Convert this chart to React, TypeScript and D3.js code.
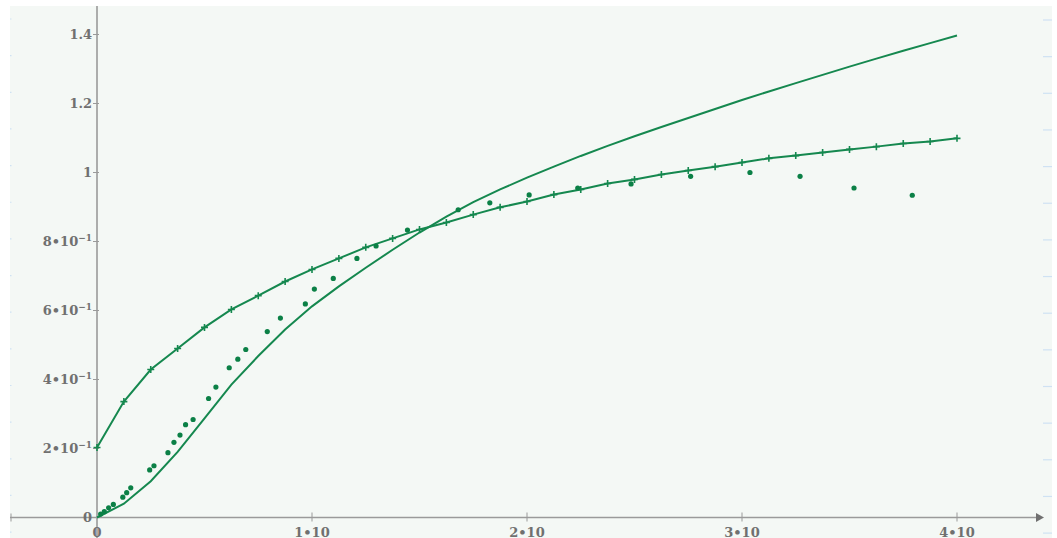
import React from "react";
import * as d3 from "d3";

// x grid for the two computed curves (step 0.125 from 0 to 4)
const gridX: number[] = [
  0, 0.125, 0.25, 0.375, 0.5, 0.625, 0.75, 0.875, 1, 1.125, 1.25, 1.375, 1.5, 1.625, 1.75, 1.875,
  2, 2.125, 2.25, 2.375, 2.5, 2.625, 2.75, 2.875, 3, 3.125, 3.25, 3.375, 3.5, 3.625, 3.75, 3.875, 4,
];

// curve with "+" markers
const markedY: number[] = [
  0.203, 0.336, 0.429, 0.49, 0.551, 0.603, 0.643, 0.684, 0.719, 0.751, 0.783, 0.809, 0.835, 0.855,
  0.878, 0.899, 0.916, 0.936, 0.951, 0.968, 0.98, 0.994, 1.006, 1.017, 1.029, 1.041, 1.049, 1.058,
  1.067, 1.075, 1.084, 1.09, 1.099,
];

// plain curve
const plainY: number[] = [
  0, 0.04, 0.105, 0.19, 0.287, 0.385, 0.468, 0.545, 0.612, 0.67, 0.724, 0.776, 0.826, 0.872, 0.914,
  0.951, 0.985, 1.017, 1.048, 1.077, 1.105, 1.132, 1.158, 1.184, 1.21, 1.235, 1.259, 1.283, 1.307,
  1.33, 1.353, 1.375, 1.397,
];

// measured points
const dotX: number[] = [
  0.017, 0.034, 0.054, 0.076, 0.12, 0.138, 0.157, 0.245, 0.265, 0.33, 0.358, 0.386, 0.412, 0.447,
  0.519, 0.553, 0.615, 0.655, 0.692, 0.792, 0.853, 0.969, 1.011, 1.099, 1.209, 1.298, 1.444, 1.68,
  1.827, 2.01, 2.236, 2.484, 2.761, 3.037, 3.27, 3.521, 3.792,
];
const dotY: number[] = [
  0.01, 0.017, 0.028, 0.038, 0.059, 0.072, 0.086, 0.138, 0.15, 0.188, 0.218, 0.239, 0.269, 0.284,
  0.345, 0.378, 0.434, 0.459, 0.487, 0.539, 0.578, 0.619, 0.662, 0.693, 0.751, 0.787, 0.833, 0.892,
  0.912, 0.935, 0.955, 0.967, 0.989, 1.0, 0.989, 0.955, 0.934,
];

const xTickValues: number[] = [0, 1, 2, 3, 4];
const xTickLabels: string[] = ["0", "1•10", "2•10", "3•10", "4•10"];
const yTickValues: number[] = [0, 0.2, 0.4, 0.6, 0.8, 1, 1.2, 1.4];
const yTickLabels: string[] = ["0", "2•10^−1", "4•10^−1", "6•10^−1", "8•10^−1", "1", "1.2", "1.4"];

const W = 1057;
const H = 538;
const GREEN = "#15884f";
const DOT = "#0b8046";
const AXIS = "#9a9a9a";
const LABEL = "#707070";
const FONT = "'DejaVu Serif', 'Liberation Serif', serif";

export default function App() {
  const x = d3.scaleLinear().domain([0, 4]).range([97, 957]);
  const y = d3.scaleLinear().domain([0, 1.4]).range([517.5, 34.5]);
  const x0 = x(0);
  const y0 = y(0);

  const line = d3
    .line<[number, number]>()
    .x((d) => x(d[0]))
    .y((d) => y(d[1]));

  const marked: [number, number][] = gridX.map((v, i) => [v, markedY[i]]);
  const plain: [number, number][] = gridX.map((v, i) => [v, plainY[i]]);

  const decoYs: number[] = d3.range(20, 540, 36.65);

  const renderLabel = (s: string) => {
    const parts = s.split("^");
    if (parts.length === 1) return s;
    return (
      <>
        {parts[0]}
        <tspan dy={-5} fontSize={9}>
          {parts[1]}
        </tspan>
      </>
    );
  };

  return (
    <svg
      width={W}
      height={H}
      style={{ position: "absolute", left: 0, top: 0, display: "block" }}
      fontFamily={FONT}
    >
      <rect x={0} y={0} width={W} height={H} fill="#ffffff" />
      <rect x={10} y={6} width={1042} height={H - 6} fill="#f4f8f5" />
      {decoYs.map((dy, i) => (
        <g key={i}>
          <line x1={1043} x2={1052} y1={dy} y2={dy} stroke="#cfe2f3" strokeWidth={1.2} />
          <line x1={10} x2={11.5} y1={dy - 1} y2={dy - 1} stroke="#cfe2f3" strokeWidth={1.2} />
        </g>
      ))}

      {/* axes */}
      <line x1={10} x2={1037} y1={y0} y2={y0} stroke={AXIS} strokeWidth={1.6} />
      <path d={`M1036,${y0 - 4.5} L1044,${y0} L1036,${y0 + 4.5} Z`} fill="#707070" />
      <line x1={11} x2={11} y1={y0 - 4} y2={y0 + 4} stroke={AXIS} strokeWidth={1} />
      <line x1={x0} x2={x0} y1={6} y2={H} stroke={AXIS} strokeWidth={1.6} />

      {xTickValues.map((v, i) => (
        <g key={"xt" + i}>
          {v !== 0 && (
            <line x1={x(v)} x2={x(v)} y1={y0 - 5} y2={y0 + 4} stroke={AXIS} strokeWidth={1} />
          )}
          <text
            x={x(v)}
            y={y0 + 19}
            textAnchor="middle"
            fontSize={13}
            fill={LABEL}
            fontWeight="bold"
          >
            {xTickLabels[i]}
          </text>
        </g>
      ))}

      {yTickValues.map((v, i) => (
        <g key={"yt" + i}>
          {v !== 0 && (
            <line x1={x0 - 4} x2={x0 + 2} y1={y(v)} y2={y(v)} stroke={AXIS} strokeWidth={1} />
          )}
          <text
            x={x0 - 5}
            y={y(v) + 4.5}
            textAnchor="end"
            fontSize={13}
            fill={LABEL}
            fontWeight="bold"
          >
            {renderLabel(yTickLabels[i])}
          </text>
        </g>
      ))}

      {/* curves */}
      <path d={line(plain) || ""} fill="none" stroke={GREEN} strokeWidth={2} />
      <path d={line(marked) || ""} fill="none" stroke={GREEN} strokeWidth={2} />
      {marked.map((d, i) => (
        <path
          key={"m" + i}
          d={`M${x(d[0]) - 3.5},${y(d[1])} h7 M${x(d[0])},${y(d[1]) - 3.5} v7`}
          stroke={GREEN}
          strokeWidth={1.6}
        />
      ))}
      {dotX.map((v, i) => (
        <circle key={"d" + i} cx={x(v)} cy={y(dotY[i])} r={2.6} fill={DOT} />
      ))}
    </svg>
  );
}
